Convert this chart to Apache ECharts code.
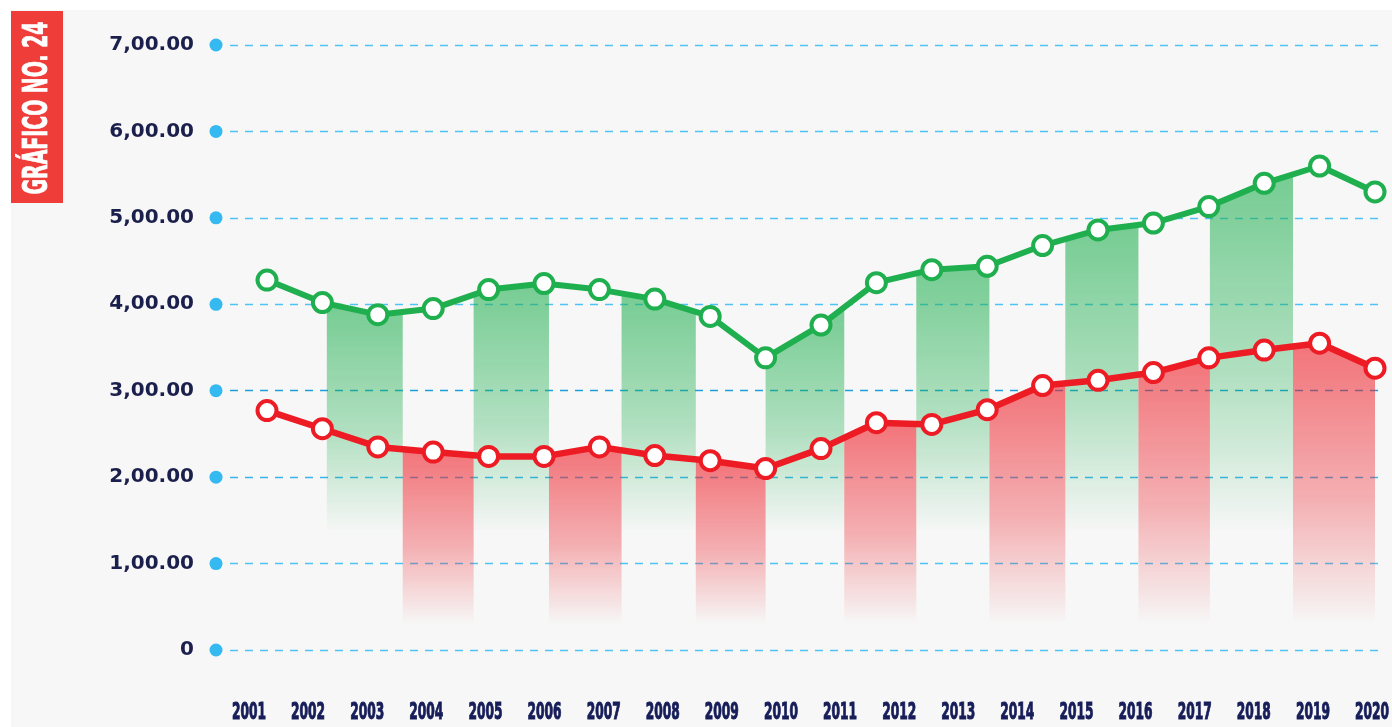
<!DOCTYPE html>
<html>
<head>
<meta charset="utf-8">
<script src="https://cdn.jsdelivr.net/npm/echarts@6/dist/echarts.min.js"></script>
<style>
  html, body { margin: 0; padding: 0; background: #fff; }
  #fondo { position: absolute; left: 11px; top: 10px; right: 0; bottom: 0; background: #f7f7f7; }
  #main { position: absolute; left: 0; top: 0; width: 1392px; height: 727px; }
</style>
</head>
<body>
<div id="fondo"></div>
<div id="main"></div>
<script>
const anios = ['2001', '2002', '2003', '2004', '2005', '2006', '2007', '2008', '2009', '2010',
  '2011', '2012', '2013', '2014', '2015', '2016', '2017', '2018', '2019', '2020'];
const marcas = ['0', '1,00.00', '2,00.00', '3,00.00', '4,00.00', '5,00.00', '6,00.00', '7,00.00'];

// 21 puntos por serie (en el original no coinciden con las 20 etiquetas)
const verde = [4.28, 4.02, 3.88, 3.95, 4.17, 4.24, 4.17, 4.06, 3.86, 3.38, 3.76,
  4.25, 4.40, 4.44, 4.68, 4.86, 4.94, 5.13, 5.40, 5.60, 5.30];
const rojo = [2.77, 2.56, 2.35, 2.29, 2.24, 2.24, 2.35, 2.25, 2.19, 2.10, 2.33,
  2.63, 2.61, 2.78, 3.06, 3.12, 3.21, 3.38, 3.47, 3.55, 3.26];

// bordes de las franjas sombreadas, en unidades de punto (0..20); alternan verde / rojo
const bordes = [1.08, 2.45, 3.73, 5.09, 6.40, 7.74, 9.00, 10.42, 11.72, 13.04, 14.41, 15.73, 17.02, 18.52, 20];

const VERDE = '#1faf4f';
const ROJO = '#ed1c24';
const AZUL_OSCURO = '#161d58';

const franjas = [];
for (let i = 0; i < bordes.length - 1; i++) {
  franjas.push([bordes[i], bordes[i + 1], i % 2]);
}

function valorEn(serie, x) {
  const i = Math.min(Math.floor(x), serie.length - 2);
  const t = x - i;
  return serie[i] + (serie[i + 1] - serie[i]) * t;
}

function dibujarFranja(params, api) {
  const x0 = api.value(0), x1 = api.value(1), s = api.value(2);
  const serie = s === 0 ? verde : rojo;
  const base = s === 0 ? 1.35 : 0.3;
  const rgb = s === 0 ? '31,175,79' : '238,28,37';
  const pts = [api.coord([x0, valorEn(serie, x0)])];
  for (let k = Math.floor(x0) + 1; k < x1; k++) {
    pts.push(api.coord([k, serie[k]]));
  }
  pts.push(api.coord([x1, valorEn(serie, x1)]));
  pts.push(api.coord([x1, base]));
  pts.push(api.coord([x0, base]));
  return {
    type: 'polygon',
    shape: { points: pts },
    style: {
      fill: new echarts.graphic.LinearGradient(0, 0, 0, 1, [
        { offset: 0, color: 'rgba(' + rgb + ',0.6)' },
        { offset: 0.55, color: 'rgba(' + rgb + ',0.33)' },
        { offset: 1, color: 'rgba(' + rgb + ',0)' }
      ])
    }
  };
}

// tipografía condensada: no hay fuente estrecha instalada, se comprime en horizontal
const CONDENSADA = '"Liberation Sans Narrow", "DejaVu Sans Condensed", sans-serif';
const fuenteTitulo = 'bold 34px ' + CONDENSADA;
const fuenteAnio = 'bold 23px ' + CONDENSADA;
const ctx = document.createElement('canvas').getContext('2d');
ctx.font = fuenteTitulo;
const escalaTitulo = 173 / ctx.measureText('GRÁFICO NO. 24').width;
ctx.font = fuenteAnio;
const escalaAnio = 34 / ctx.measureText('2001').width;

function dibujarAnio(params, api) {
  const p = api.coord([api.value(0), 0]);
  return {
    type: 'text',
    x: p[0],
    y: p[1] + 63,
    scaleX: escalaAnio,
    style: {
      text: anios[params.dataIndex],
      font: fuenteAnio,
      fill: AZUL_OSCURO,
      stroke: AZUL_OSCURO,
      lineWidth: 1,
      align: 'center',
      verticalAlign: 'middle'
    }
  };
}

const chart = echarts.init(document.getElementById('main'));

const option = {
  animation: false,
  grid: [
    { left: 230, right: 12, top: 45, bottom: 77 },
    { left: 267, right: 17, top: 45, bottom: 77 },
    { left: 249, right: 20, top: 45, bottom: 77 }
  ],
  xAxis: [
    { gridIndex: 0, type: 'value', min: 0, max: 1, show: false },
    { gridIndex: 1, type: 'value', min: 0, max: 20, show: false },
    {
      gridIndex: 2,
      type: 'category',
      data: anios,
      boundaryGap: false,
      axisLine: { show: false },
      axisTick: { show: false },
      splitLine: { show: false },
      axisLabel: { show: false }
    }
  ],
  yAxis: [
    {
      gridIndex: 0,
      type: 'value',
      min: 0,
      max: 7,
      interval: 1,
      axisLine: { show: false },
      axisTick: { show: false },
      axisLabel: {
        margin: 36,
        color: '#1b1f4b',
        fontSize: 20,
        fontWeight: 'bold',
        fontFamily: '"DejaVu Sans", sans-serif',
        formatter: (v) => marcas[v]
      },
      splitLine: {
        lineStyle: {
          color: ['#4fc3f4', '#4fc3f4', '#3ab5ec', '#1e9fd8', '#4fc3f4', '#4fc3f4', '#4fc3f4', '#4fc3f4'],
          width: 1.3,
          type: [8, 7]
        }
      }
    },
    { gridIndex: 1, type: 'value', min: 0, max: 7, show: false },
    { gridIndex: 2, type: 'value', min: 0, max: 7, show: false }
  ],
  graphic: [
    { type: 'rect', shape: { x: 11, y: 11, width: 52, height: 192 }, style: { fill: '#ef3d3a' } },
    {
      type: 'text',
      x: 38,
      y: 108,
      rotation: Math.PI / 2,
      scaleX: escalaTitulo,
      style: {
        text: 'GRÁFICO NO. 24',
        font: fuenteTitulo,
        fill: '#fff',
        stroke: '#fff',
        lineWidth: 0.8,
        align: 'center',
        verticalAlign: 'middle'
      }
    }
  ],
  series: [
    {
      type: 'scatter',
      xAxisIndex: 0,
      yAxisIndex: 0,
      data: marcas.map((_, i) => [0, i]),
      symbolSize: 13,
      symbolOffset: [-14, 0],
      itemStyle: { color: '#03a9ef' },
      clip: false,
      silent: true
    },
    {
      type: 'custom',
      xAxisIndex: 2,
      yAxisIndex: 2,
      data: anios.map((_, i) => i),
      renderItem: dibujarAnio,
      encode: { x: 0 },
      clip: false,
      silent: true
    },
    {
      type: 'custom',
      xAxisIndex: 1,
      yAxisIndex: 1,
      data: franjas,
      renderItem: dibujarFranja,
      encode: { x: [0, 1], y: 2 },
      z: 1,
      silent: true
    },
    {
      name: 'verde',
      type: 'line',
      xAxisIndex: 1,
      yAxisIndex: 1,
      data: verde.map((v, i) => [i, v]),
      symbol: 'circle',
      symbolSize: 19,
      showAllSymbol: true,
      lineStyle: { color: VERDE, width: 6 },
      itemStyle: { color: '#fff', borderColor: VERDE, borderWidth: 4 },
      z: 5
    },
    {
      name: 'rojo',
      type: 'line',
      xAxisIndex: 1,
      yAxisIndex: 1,
      data: rojo.map((v, i) => [i, v]),
      symbol: 'circle',
      symbolSize: 19,
      showAllSymbol: true,
      lineStyle: { color: ROJO, width: 6.5 },
      itemStyle: { color: '#fff', borderColor: ROJO, borderWidth: 4 },
      z: 5
    }
  ]
};

chart.setOption(option);
</script>
</body>
</html>
